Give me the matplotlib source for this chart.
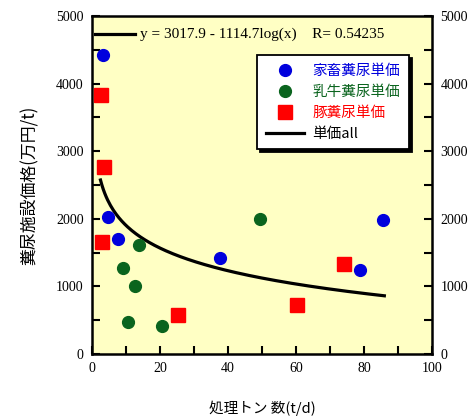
import numpy as np
import matplotlib.pyplot as plt
from matplotlib.ticker import MultipleLocator

# data
katiku_x = [3.2, 4.6, 7.7, 37.7, 85.7, 78.7]
katiku_y = [4420, 2020, 1700, 1415, 1990, 1240]
nyugyu_x = [9.2, 13.8, 49.5, 12.7, 10.7, 20.6]
nyugyu_y = [1270, 1610, 2000, 1005, 475, 420]
ton_x = [2.6, 3.5, 2.9, 74.1, 25.2, 60.2]
ton_y = [3830, 2760, 1650, 1330, 580, 725]

# fitted curve printed on the chart: y = A - B log10(x)
FIT_A = 3017.9
FIT_B = 1114.7
FIT_R = 0.54235
fit_x = np.linspace(2.5, 86, 200)
fit_y = FIT_A - FIT_B * np.log10(fit_x)

JP = ['Noto Sans CJK JP', 'DejaVu Sans']
SERIF = 'Liberation Serif'

fig = plt.figure(figsize=(4.7, 4.17), dpi=100)
ax = fig.add_axes([0.1957, 0.151, 0.7233, 0.8106])
ax.set_facecolor('#FFFFC4')

ax.plot(katiku_x, katiku_y, 'o', color='#0000DD', markersize=8.5, label='家畜糞尿単価', zorder=3)
ax.plot(nyugyu_x, nyugyu_y, 'o', color='#0A641E', markersize=8.5, label='乳牛糞尿単価', zorder=3)
ax.plot(ton_x, ton_y, 's', color='#FF0000', markersize=10, label='豚糞尿単価', zorder=3)
ax.plot(fit_x, fit_y, '-', color='black', linewidth=2.3, label='単価all', zorder=2)

ax.set_xlim(0, 100)
ax.set_ylim(0, 5000)
ax.xaxis.set_major_locator(MultipleLocator(20))
ax.xaxis.set_minor_locator(MultipleLocator(10))
ax.yaxis.set_major_locator(MultipleLocator(1000))
ax.yaxis.set_minor_locator(MultipleLocator(500))
ax.tick_params(which='both', direction='in', length=6, width=1.5,
               left=True, right=True, top=False, labelright=True,
               labelsize=10, pad=6)
for lab in ax.get_xticklabels() + ax.get_yticklabels():
    lab.set_fontfamily(SERIF)
for s in ax.spines.values():
    s.set_linewidth(1.8)

# equation label in the top-left corner
ax.plot([0.009, 0.127], [0.946, 0.946], transform=ax.transAxes, color='black', linewidth=2.3)
ax.text(0.141, 0.946, 'y = 3017.9 - 1114.7log(x)    R= %.5f' % FIT_R, transform=ax.transAxes,
        va='center', ha='left', fontsize=11, fontfamily=SERIF)

leg = ax.legend(loc='upper left', bbox_to_anchor=(0.485, 0.885), borderaxespad=0,
                frameon=True, fancybox=False,
                shadow={'color': 'black', 'alpha': 1}, edgecolor='black', framealpha=1,
                prop={'family': JP, 'size': 10.5}, handlelength=2.6, labelspacing=0.48,
                borderpad=0.6, handletextpad=0.6)
leg.get_frame().set_linewidth(1.3)
cols = ['#0000DD', '#0A641E', '#FF0000', 'black']
for t, c in zip(leg.get_texts(), cols):
    t.set_color(c)

ax.set_xlabel('処理トン 数(t/d)', fontfamily=JP, fontsize=10.5, labelpad=18)
ax.set_ylabel('糞尿施設価格(万円/t)', fontfamily=JP, fontsize=12.2, labelpad=12)

fig.savefig('out.png', dpi=100)
